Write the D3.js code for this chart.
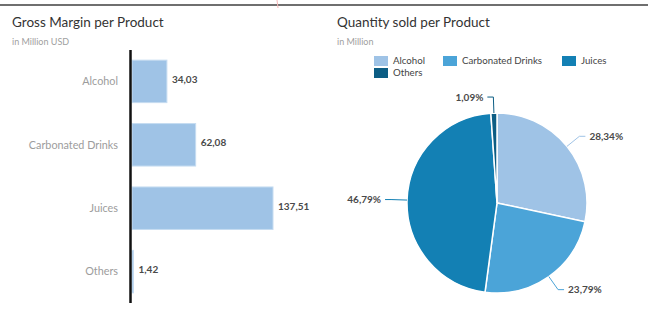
<!DOCTYPE html>
<html>
<head>
<meta charset="utf-8">
<script src="https://cdn.jsdelivr.net/npm/d3@7"></script>
<style>
  body { margin: 0; background: #fff; font-family: Lato, "Open Sans", sans-serif; }
  svg { display: block; }
</style>
</head>
<body>
<svg id="chart" width="648" height="312"></svg>
<script>
const products = ["Alcohol", "Carbonated Drinks", "Juices", "Others"];
const grossMargin = [34.03, 62.08, 137.51, 1.42];
const quantityShare = [28.34, 23.79, 46.79, 1.09];
const colors = ["#9fc3e6", "#4ba4d8", "#1380b4", "#0c5d84"];

const locale = d3.formatLocale({ decimal: ",", thousands: ".", grouping: [3], currency: ["", ""] });
const fmt = locale.format(".2f");

const svg = d3.select("#chart");

// top border + small marker
svg.append("line").attr("x1", 0).attr("x2", 648).attr("y1", 5).attr("y2", 5)
   .attr("stroke", "#6f6f6f").attr("stroke-width", 2);
svg.append("line").attr("x1", 277).attr("x2", 278).attr("y1", 0).attr("y2", 8)
   .attr("stroke", "#f4b6b6").attr("stroke-width", 1);

function header(x, title, sub) {
    svg.append("text").attr("x", x).attr("y", 27).text(title)
       .style("font-size", "13.5px").style("fill", "#333");
    svg.append("text").attr("x", x).attr("y", 45).text(sub)
       .style("font-size", "9px").style("fill", "#a0a0a0");
}
header(12, "Gross Margin per Product", "in Million USD");
header(337, "Quantity sold per Product", "in Million");

// ---- bar chart ----
const bar = svg.append("g");
const x = d3.scaleLinear().domain([0, 137.51]).range([132, 273]);
const y = d3.scaleBand().domain(products).range([50, 303]).paddingInner(0.33).paddingOuter(0.16);

bar.selectAll("rect")
   .data(products)
   .enter().append("rect")
   .attr("x", x(0))
   .attr("y", d => y(d))
   .attr("width", (d, i) => x(grossMargin[i]) - x(0))
   .attr("height", y.bandwidth())
   .attr("fill", "#9fc3e6")
   .attr("stroke", "#c6dcf1")
   .attr("stroke-width", 1);

bar.selectAll(".cat")
   .data(products)
   .enter().append("text")
   .attr("x", 118)
   .attr("y", d => y(d) + y.bandwidth() / 2)
   .attr("dy", ".35em")
   .style("text-anchor", "end")
   .style("font-size", "10.8px")
   .style("fill", "#9c9c9c")
   .text(d => d);

bar.selectAll(".val")
   .data(products)
   .enter().append("text")
   .attr("x", (d, i) => x(grossMargin[i]) + 5)
   .attr("y", d => y(d) + y.bandwidth() / 2 - 2)
   .attr("dy", ".35em")
   .style("font-size", "10px")
   .style("font-weight", "bold")
   .style("fill", "#4a4a4a")
   .text((d, i) => fmt(grossMargin[i]));

bar.append("line").attr("x1", 130.5).attr("x2", 130.5).attr("y1", 50).attr("y2", 303)
   .attr("stroke", "#111").attr("stroke-width", 2.5);

// ---- legend ----
const legendPos = [[374, 56], [443, 56], [562, 56], [374, 68]];
const legend = svg.selectAll(".legend")
    .data(products)
    .enter().append("g")
    .attr("transform", (d, i) => `translate(${legendPos[i][0]},${legendPos[i][1]})`);
legend.append("rect").attr("width", 14).attr("height", 10).attr("fill", (d, i) => colors[i]);
legend.append("text").attr("x", 19).attr("y", 5).attr("dy", ".35em")
      .style("font-size", "9.7px").style("fill", "#444").text(d => d);

// ---- pie ----
const cx = 497, cy = 203, r = 90;
const pie = d3.pie().sort(null).value(d => d.v);
const arcs = pie(products.map((p, i) => ({ p, v: quantityShare[i], i })));
const arc = d3.arc().innerRadius(0).outerRadius(r);
const g = svg.append("g").attr("transform", `translate(${cx},${cy})`);

g.selectAll("path")
 .data(arcs)
 .enter().append("path")
 .attr("d", arc)
 .attr("fill", d => colors[d.data.i])
 .attr("stroke", "#fff")
 .attr("stroke-width", 1.5);

arcs.forEach(d => {
    const a = (d.startAngle + d.endAngle) / 2;
    const sx = Math.sin(a), sy = -Math.cos(a);
    const p0 = [sx * r, sy * r];
    const p1 = [sx * (r + 16), sy * (r + 16)];
    const dir = sx >= 0 ? 1 : -1;
    const p2 = [p1[0] + dir * 6, p1[1]];
    g.append("path")
     .attr("d", d3.line()([p0, p1, p2]))
     .attr("fill", "none")
     .attr("stroke", colors[d.data.i])
     .attr("stroke-width", 1);
    g.append("text")
     .attr("x", p2[0] + dir * 4)
     .attr("y", p2[1])
     .attr("dy", ".35em")
     .style("text-anchor", dir > 0 ? "start" : "end")
     .style("font-size", "10px")
     .style("font-weight", "bold")
     .style("fill", "#4a4a4a")
     .text(fmt(d.data.v) + "%");
});
</script>
</body>
</html>
